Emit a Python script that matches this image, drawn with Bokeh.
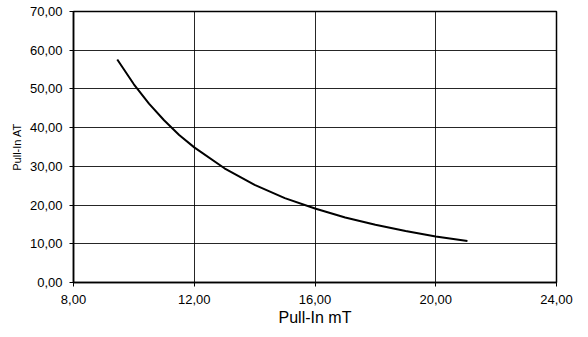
from bokeh.plotting import figure
from bokeh.embed import file_html
from bokeh.resources import INLINE
from bokeh.models import FixedTicker, Range1d

# data
pull_in_mT = [9.45, 10.0, 10.5, 11.0, 11.5, 12.0, 13.0, 14.0, 15.0, 16.0, 17.0, 18.0, 19.0, 20.0, 21.05]
pull_in_AT = [57.6, 51.2, 46.2, 41.9, 38.1, 34.9, 29.5, 25.2, 21.8, 19.1, 16.8, 14.9, 13.3, 11.9, 10.7]

x_ticks = [8, 12, 16, 20, 24]
y_ticks = [0, 10, 20, 30, 40, 50, 60, 70]

def fmt(v):
    return f"{v:.2f}".replace(".", ",")

p = figure(width=580, height=329, output_backend="svg", toolbar_location=None,
           x_range=Range1d(8, 24), y_range=Range1d(0, 70),
           min_border_left=73, min_border_right=24, min_border_top=11, min_border_bottom=47)

p.line(pull_in_mT, pull_in_AT, line_color="black", line_width=2)

font = "Liberation Sans"
p.xaxis.ticker = FixedTicker(ticks=x_ticks)
p.yaxis.ticker = FixedTicker(ticks=y_ticks)
p.xaxis.major_label_overrides = {t: fmt(t) for t in x_ticks}
p.yaxis.major_label_overrides = {t: fmt(t) for t in y_ticks}

for ax in (p.xaxis, p.yaxis):
    ax.axis_line_color = "black"
    ax.axis_line_width = 1.5
    ax.major_tick_line_color = "black"
    ax.major_tick_in = 0
    ax.major_tick_out = 4
    ax.minor_tick_line_color = None
    ax.major_label_text_font = font
    ax.major_label_text_font_size = "13px"
    ax.major_label_text_color = "black"
    ax.axis_label_text_font = font
    ax.axis_label_text_font_style = "normal"
    ax.axis_label_text_color = "black"

p.xaxis.axis_label = "Pull-In mT"
p.xaxis.axis_label_text_font_size = "16px"
p.xaxis.major_label_standoff = 8
p.xaxis.axis_label_standoff = 2
p.yaxis.axis_label = "Pull-In AT"
p.yaxis.axis_label_text_font_size = "11px"
p.yaxis.major_label_standoff = 7
p.yaxis.axis_label_standoff = 4

p.xgrid.ticker = FixedTicker(ticks=x_ticks)
p.ygrid.ticker = FixedTicker(ticks=y_ticks)
for g in (p.xgrid, p.ygrid):
    g.grid_line_color = "black"
    g.grid_line_width = 1
    g.grid_line_alpha = 0.85

p.outline_line_color = "black"
p.outline_line_width = 1.5
p.background_fill_color = "white"
p.border_fill_color = "white"

open("out.html", "w").write(file_html(p, INLINE))
